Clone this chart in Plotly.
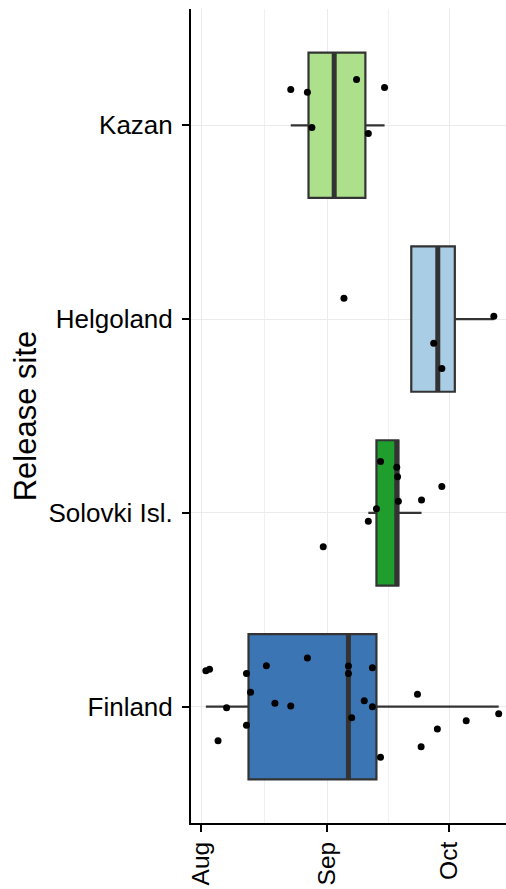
import numpy as np
import plotly.graph_objects as go

# Release sites, bottom to top
sites = ["Finland", "Solovki Isl.", "Helgoland", "Kazan"]
site_pos = [1, 2, 3, 4]
fill_colors = ["#3B75B3", "#1F9E2E", "#A9CDE4", "#ADE08B"]

# Departure timing per site, in days after 1 August
finland_days = [1.1, 2.0, 6.2, 4.1, 11.1, 12.1, 11.1, 16.0, 18.1, 22.0, 26.1, 36.2,
                36.2, 37.0, 40.1, 42.1, 42.1, 44.1, 53.2, 54.1, 58.1, 65.2, 73.2]
solovki_days = [44.1, 48.1, 48.3, 48.5, 54.2, 59.2, 43.1, 41.1, 30.0]
helgoland_days = [35.1, 72.0, 57.2, 59.2]
kazan_days = [22.0, 26.1, 38.2, 45.1, 27.2, 41.1]

# Vertical jitter of each point around its site row
finland_jitter = [0.186, 0.193, -0.005, -0.176, 0.172, 0.074, -0.096, 0.212, 0.018, 0.004,
                  0.251, 0.210, 0.172, -0.057, 0.031, 0.201, 0.000, -0.261, 0.064, -0.207,
                  -0.115, -0.072, -0.036]
solovki_jitter = [0.265, 0.235, 0.187, 0.060, 0.067, 0.136, 0.021, -0.043, -0.174]
helgoland_jitter = [0.107, 0.015, -0.125, -0.255]
kazan_jitter = [0.184, 0.170, 0.236, 0.195, -0.012, -0.043]

# Axis tick labels (month starts, days after 1 August)
month_ticks = [0, 31, 61]
month_labels = ["Aug", "Sep", "Oct"]
minor_ticks = [15.5, 46]

days = [finland_days, solovki_days, helgoland_days, kazan_days]
jitters = [finland_jitter, solovki_jitter, helgoland_jitter, kazan_jitter]

BOX_W = 0.75
EDGE = "#333333"
FONT = "Liberation Sans, Arial, Helvetica, sans-serif"

fig = go.Figure()


def box_stats(values):
    v = np.asarray(values, dtype=float)
    q1, med, q3 = np.percentile(v, [25, 50, 75])
    iqr = q3 - q1
    lo = v[v >= q1 - 1.5 * iqr].min()
    hi = v[v <= q3 + 1.5 * iqr].max()
    return q1, med, q3, min(lo, q1), max(hi, q3)


for name, pos, col, vals in zip(sites, site_pos, fill_colors, days):
    q1, med, q3, lo, hi = box_stats(vals)
    fig.add_trace(go.Box(
        y=[pos], q1=[q1], median=[med], q3=[q3], lowerfence=[lo], upperfence=[hi],
        orientation="h", width=BOX_W, fillcolor=col,
        line=dict(color=EDGE, width=2.2), whiskerwidth=0,
        boxpoints=False, name=name, showlegend=False, hoverinfo="skip",
    ))
    # heavier median bar
    fig.add_trace(go.Scatter(
        x=[med, med], y=[pos - BOX_W / 2, pos + BOX_W / 2], mode="lines",
        line=dict(color=EDGE, width=5), showlegend=False, hoverinfo="skip",
    ))

for pos, vals, jit in zip(site_pos, days, jitters):
    fig.add_trace(go.Scatter(
        x=vals, y=[pos + j for j in jit], mode="markers",
        marker=dict(color="black", size=7), showlegend=False,
    ))

fig.update_layout(
    width=506, height=889,
    margin=dict(l=191, r=0, t=9, b=66),
    plot_bgcolor="white", paper_bgcolor="white",
    font=dict(family=FONT, color="black", size=26),
    xaxis=dict(
        range=[-2.56, 75.0], tickvals=month_ticks, ticktext=month_labels,
        tickangle=-90, ticks="outside", ticklen=7, tickwidth=2, tickcolor="black",
        showline=True, linecolor="black", linewidth=2,
        showgrid=True, gridcolor="#EBEBEB", gridwidth=1, zeroline=False,
        minor=dict(tickvals=minor_ticks, showgrid=True, gridcolor="#F0F0F0", gridwidth=1, ticks=""),
        tickfont=dict(size=24.5), ticklabelstandoff=0, automargin=False,
    ),
    yaxis=dict(
        range=[0.4, 4.6], tickvals=site_pos, ticktext=sites,
        ticks="outside", ticklen=7, tickwidth=2, tickcolor="black",
        showline=True, linecolor="black", linewidth=2,
        showgrid=True, gridcolor="#EBEBEB", gridwidth=1, zeroline=False,
        tickfont=dict(size=26), ticklabelstandoff=4, automargin=False,
        title=dict(text="Release site", font=dict(size=31), standoff=3),
    ),
)

fig.write_html("out.html")
